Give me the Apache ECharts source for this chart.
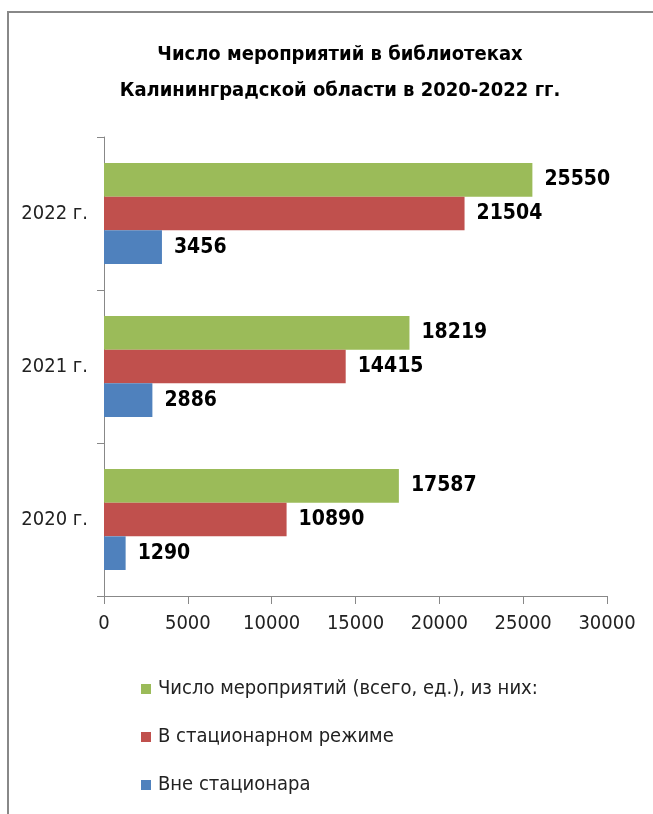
<!DOCTYPE html>
<html><head><meta charset="utf-8">
<script src="https://cdn.jsdelivr.net/npm/echarts@6/dist/echarts.min.js"></script>
<style>html,body{margin:0;padding:0;background:#fff}#c{width:653px;height:814px}</style>
</head><body><div id="c"></div>
<script>
const categories = ['2020 г.', '2021 г.', '2022 г.'];
const seriesNames = ['Число мероприятий (всего, ед.), из них:', 'В стационарном режиме', 'Вне стационара'];
const totalValues = [17587, 18219, 25550];
const stationaryValues = [10890, 14415, 21504];
const outsideValues = [1290, 2886, 3456];
const xTicks = [0, 5000, 10000, 15000, 20000, 25000, 30000];
const colors = ['#9BBB59', '#C0504D', '#4F81BD'];

const FONT = '"Liberation Sans Narrow", "DejaVu Sans Condensed", sans-serif';
const chart = echarts.init(document.getElementById('c'));
const values = [totalValues, stationaryValues, outsideValues];
chart.setOption({
  animation: false,
  title: {
    text: 'Число мероприятий в библиотеках\nКалининградской области в 2020-2022 гг.',
    left: 335, textAlign: 'center', top: 32,
    textStyle: { fontFamily: FONT, fontWeight: 'bold', fontSize: 20, lineHeight: 36, color: '#000' }
  },
  graphic: [{
    type: 'rect', shape: { x: 8, y: 12, width: 700, height: 900 },
    style: { fill: 'none', stroke: '#888', lineWidth: 2 }, silent: true
  }],
  legend: {
    orient: 'vertical', left: 136, top: 674, itemGap: 28,
    itemWidth: 10, itemHeight: 10, icon: 'rect',
    textStyle: { fontFamily: FONT, fontSize: 20, color: '#222', padding: [0, 0, 0, 2] },
    data: seriesNames
  },
  grid: { left: 104, right: 46, top: 137, bottom: 218, containLabel: false },
  xAxis: {
    type: 'value', min: xTicks[0], max: xTicks[xTicks.length - 1], interval: 5000,
    axisLine: { show: true, lineStyle: { color: '#888' } },
    axisTick: { show: true, length: 8, lineStyle: { color: '#888' } },
    splitLine: { show: false },
    axisLabel: { fontFamily: FONT, fontSize: 20, color: '#222', margin: 18, formatter: v => String(v) }
  },
  yAxis: {
    type: 'category', data: categories,
    axisLine: { show: true, lineStyle: { color: '#888' } },
    axisTick: { show: true, length: 7, lineStyle: { color: '#888' } },
    axisLabel: { fontFamily: FONT, fontSize: 20, color: '#222', margin: 16 }
  },
  series: seriesNames.map((n, i) => ({
    name: n, type: 'bar', data: values[i],
    barGap: '0%', barCategoryGap: '34%',
    itemStyle: { color: colors[i] },
    label: { show: true, position: 'right', distance: 12, fontFamily: FONT, fontWeight: 'bold', fontSize: 21, color: '#000' }
  }))
});
</script></body></html>
